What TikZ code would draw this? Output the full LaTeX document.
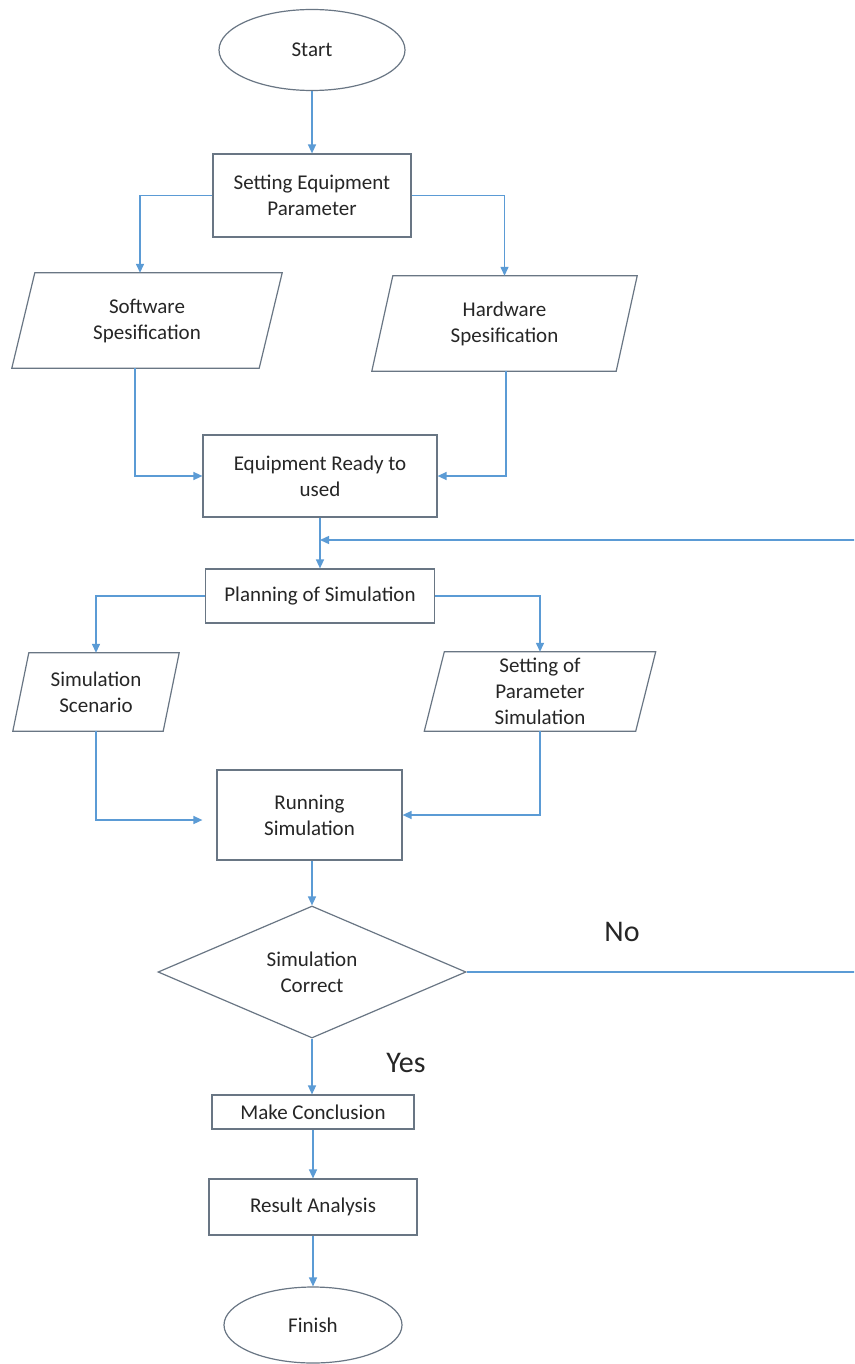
\documentclass[tikz,border=0pt]{standalone}
\usepackage{fontspec}
\setmainfont{Carlito}
\usetikzlibrary{shapes.geometric,arrows.meta,calc}

\definecolor{flowblue}{RGB}{91,155,213}
\definecolor{edgegray}{RGB}{105,118,132}
\definecolor{inkgray}{RGB}{38,38,38}

\tikzset{
  labeltext/.style={text=inkgray, font=\fontsize{21}{26}\selectfont, align=center, inner sep=0pt},
  base/.style={labeltext, draw=edgegray, line width=1.2pt, fill=white},
  procbox/.style={base, rectangle},
  termbox/.style={base, ellipse},
  decbox/.style={base, diamond, aspect=2.33},
  databody/.style={labeltext, rectangle},
  flow/.style={draw=flowblue, line width=1.4pt, -{Triangle[length=9pt,width=8pt]}},
  answer/.style={text=inkgray, font=\fontsize{30}{36}\selectfont, inner sep=0pt}
}

% slanted outline of an input/output box: #1 node name, #2 half of the slant
\newcommand\dataframe[2]{%
  \draw[draw=edgegray, line width=1.2pt]
    ([xshift=#2pt]#1.north west) -- ([xshift=#2pt]#1.north east)
    -- ([xshift=-#2pt]#1.south east) -- ([xshift=-#2pt]#1.south west) -- cycle;}

\begin{document}
\begin{tikzpicture}[x=1pt, y=-1pt]
  \fill[white] (0,0) rectangle (854,1364);
  \useasboundingbox (0,0) rectangle (854,1364);
  \clip (0,0) rectangle (854,1364);

  % terminals and process steps
  \node[termbox, minimum width=186, minimum height=81] (start) at (312,50) {Start};
  \node[procbox, minimum width=198, minimum height=83] (setp) at (312,195.5) {Setting Equipment\\Parameter};

  \node[databody, minimum width=247, minimum height=95] (soft) at (147,320.5) {Software\\Spesification};
  \dataframe{soft}{11.5}
  \node[databody, minimum width=244, minimum height=95] (hard) at (504.5,323.5) {Hardware\\Spesification};
  \dataframe{hard}{10.5}

  \node[procbox, minimum width=234, minimum height=82] (eq) at (320,476) {Equipment Ready to\\used};
  \node[procbox, minimum width=229, minimum height=54] (plan) at (320,596) {Planning of Simulation};

  \node[databody, minimum width=150, minimum height=78] (scen) at (96,692) {Simulation\\Scenario};
  \dataframe{scen}{8}
  \node[databody, minimum width=211, minimum height=79] (param) at (540,691.5) {Setting of\\Parameter\\Simulation};
  \dataframe{param}{10}

  \node[procbox, minimum width=185, minimum height=90] (run) at (309.5,815) {Running\\Simulation};
  \node[decbox, minimum width=308, minimum height=132] (dia) at (312,972) {Simulation\\Correct};

  \node[procbox, minimum width=202, minimum height=34] (mk) at (313,1112) {Make Conclusion};
  \node[procbox, minimum width=208, minimum height=56] (res) at (313,1207) {Result Analysis};
  \node[termbox, minimum width=178, minimum height=76] (fin) at (313,1325) {Finish};

  % branch answers
  \node[answer] (no) at (622,932) {No};
  \node[answer] (yes) at (406,1063) {Yes};

  % connectors
  \draw[flow] (start.south) -- (setp.north);
  \draw[flow] (setp.west) -| ([xshift=-7pt]soft.north);
  \draw[flow] (setp.east) -| (hard.north);
  \draw[flow] ([xshift=-12pt]soft.south) |- (eq.west);
  \draw[flow] ([xshift=1.5pt]hard.south) |- (eq.east);
  \draw[flow] (eq.south) -- (plan.north);
  \draw[flow] (plan.west) -| (scen.north);
  \draw[flow] (plan.east) -| (param.north);
  \draw[flow] (scen.south) |- ([xshift=-14pt,yshift=-5pt]run.west);
  \draw[flow] (param.south) |- (run.east);
  \draw[flow] (run.south -| dia.north) -- (dia.north);
  \draw[flow] (dia.south) -- (dia.south |- mk.north);
  \draw[flow] (mk.south) -- (res.north);
  \draw[flow] (res.south) -- (fin.north);

  % return path when the simulation is not correct
  \coordinate (loopturn) at (890,540);
  \coordinate (loopin) at (eq.south |- loopturn);
  \draw[flow] (dia.east) -| (loopturn) -- (loopin);
\end{tikzpicture}
\end{document}
